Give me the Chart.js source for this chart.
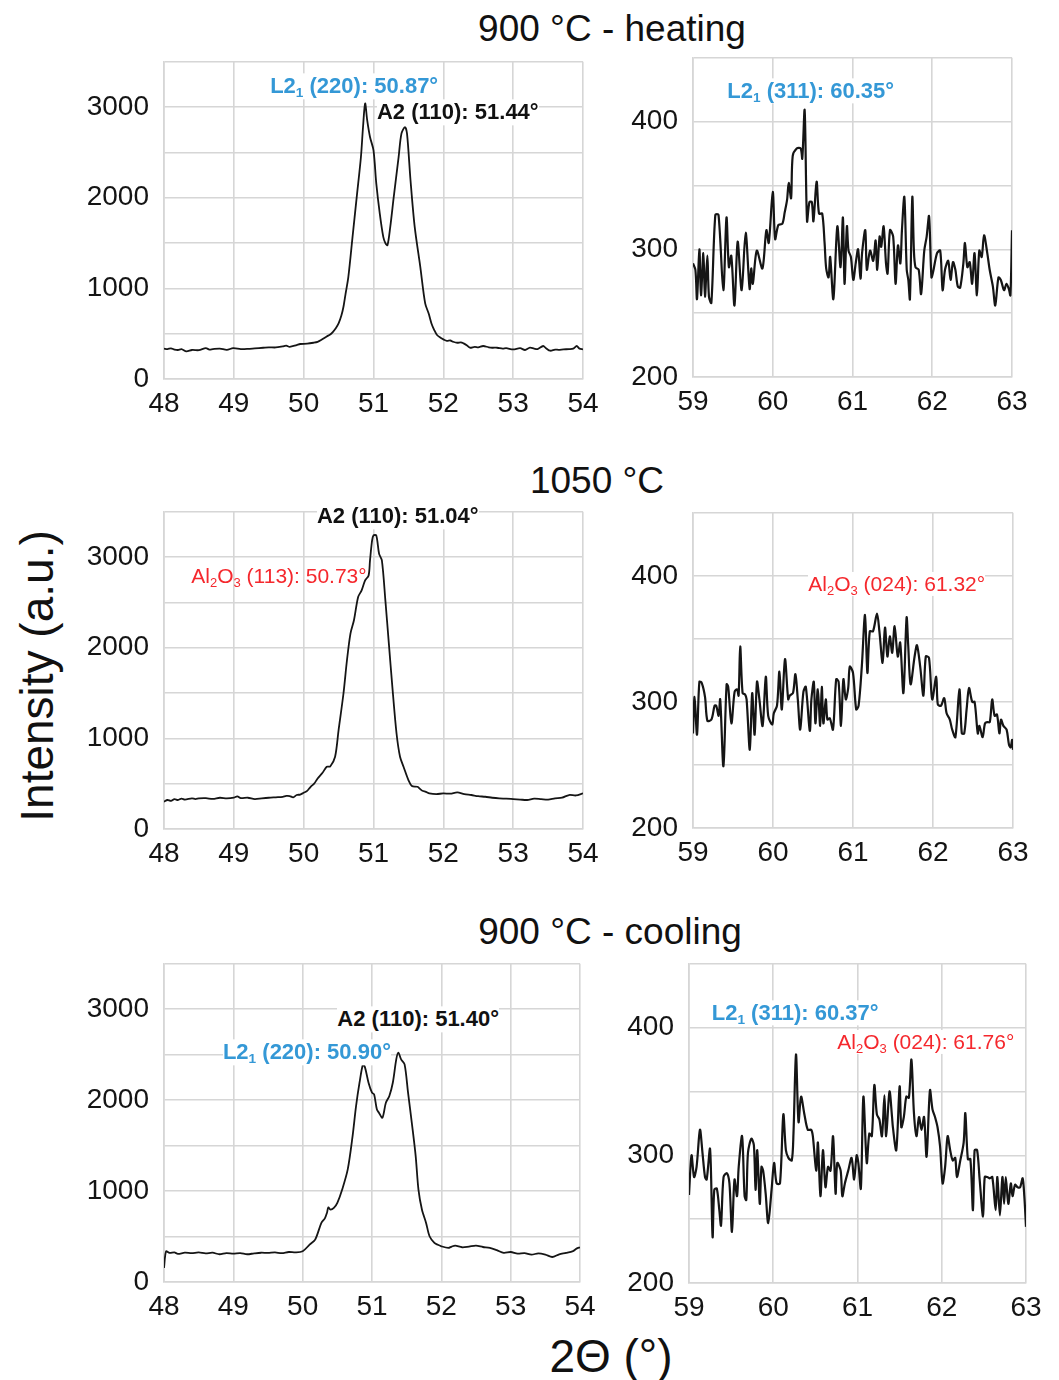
<!DOCTYPE html>
<html><head><meta charset="utf-8">
<script src="https://cdn.jsdelivr.net/npm/chart.js@4.4.1/dist/chart.umd.min.js"></script>
<style>
html,body{margin:0;padding:0;background:#fff;}
body{width:1059px;height:1380px;position:relative;overflow:hidden;font-family:Arial,"Liberation Sans",sans-serif;}
canvas{position:absolute;}
.title{position:absolute;font-size:37px;color:#111;white-space:nowrap;transform:translate(-50%,-50%);}
.axt{position:absolute;font-size:46px;color:#111;white-space:nowrap;transform:translate(-50%,-50%);}
.ann{position:absolute;white-space:nowrap;font-size:22px;background:#fff;padding:0;transform:translateY(-50%);line-height:1.15;}
.ann.nobg{background:transparent;}
.ann sub{font-size:0.62em;vertical-align:-0.28em;line-height:0;}
.blue{color:#3498d6;font-weight:bold;}
.black{color:#111;font-weight:bold;}
.red{color:#f5282d;font-size:21px;}
</style></head><body>
<div class="title" style="left:612px;top:29px;">900 °C - heating</div>
<div class="title" style="left:597px;top:481px;">1050 °C</div>
<div class="title" style="left:610px;top:932px;">900 °C - cooling</div>
<div class="axt" style="left:37px;top:676px;transform:translate(-50%,-50%) rotate(-90deg);">Intensity (a.u.)</div>
<div class="axt" style="left:611px;top:1356px;">2Θ (°)</div>
<script>
// ---------- DATA ----------
const leftXTicks = [48, 49, 50, 51, 52, 53, 54];
const rightXTicks = [59, 60, 61, 62, 63];
const leftYLabels = [0, 1000, 2000, 3000];
const rightYLabels = [200, 300, 400];

// 900 °C heating, 48-54
const p1X = [48.00,48.05,48.10,48.15,48.20,48.25,48.32,48.40,48.50,48.60,48.65,48.70,48.80,48.90,48.99,49.10,49.20,49.30,49.42,49.50,49.60,49.70,49.75,49.80,49.90,49.95,50.05,50.14,50.20,50.25,50.33,50.38,50.42,50.46,50.50,50.54,50.57,50.60,50.64,50.70,50.76,50.82,50.85,50.88,50.91,50.95,51.00,51.04,51.09,51.14,51.17,51.20,51.24,51.29,51.36,51.40,51.45,51.48,51.53,51.59,51.67,51.74,51.79,51.83,51.87,51.91,51.96,52.00,52.05,52.10,52.14,52.20,52.25,52.29,52.34,52.38,52.45,52.50,52.57,52.65,52.70,52.77,52.85,52.90,53.00,53.10,53.17,53.24,53.30,53.35,53.43,53.47,53.53,53.60,53.65,53.72,53.80,53.86,53.91,53.95,54.00];
const p1Y = [335,330,338,325,320,330,305,320,318,340,325,330,335,322,340,330,332,338,345,350,348,360,368,355,375,386,390,400,410,430,470,490,520,560,613,700,797,940,1127,1568,2009,2450,2780,3040,2853,2670,2523,2156,1825,1568,1500,1476,1678,2009,2450,2707,2780,2707,2193,1678,1238,834,723,613,540,485,455,437,420,425,411,400,405,393,370,345,355,350,364,350,345,345,335,340,327,340,320,345,335,330,364,340,312,325,322,327,330,335,364,335,327];

// 900 °C heating, 59-63
const p2X = [59.00,59.03,59.05,59.08,59.10,59.13,59.15,59.18,59.20,59.23,59.28,59.32,59.38,59.42,59.45,59.48,59.52,59.56,59.61,59.66,59.71,59.73,59.75,59.80,59.87,59.92,59.95,60.00,60.03,60.07,60.12,60.15,60.18,60.20,60.23,60.25,60.30,60.35,60.37,60.40,60.43,60.46,60.49,60.51,60.55,60.58,60.62,60.65,60.67,60.70,60.72,60.76,60.81,60.85,60.88,60.90,60.93,60.95,60.98,61.01,61.04,61.07,61.10,61.12,61.16,61.18,61.22,61.26,61.29,61.31,61.34,61.36,61.39,61.42,61.44,61.47,61.51,61.54,61.57,61.60,61.62,61.65,61.68,61.70,61.72,61.75,61.77,61.79,61.83,61.86,61.90,61.93,61.96,61.99,62.01,62.06,62.10,62.13,62.16,62.20,62.23,62.26,62.29,62.32,62.35,62.39,62.41,62.44,62.47,62.50,62.53,62.56,62.59,62.62,62.65,62.69,62.72,62.76,62.79,62.83,62.86,62.90,62.93,62.96,62.98,63.00];
const p2Y = [289,284,261,300,264,297,263,295,263,258,327,327,268,325,286,295,256,306,268,313,269,285,273,299,285,315,305,345,308,319,320,329,339,352,340,373,379,379,371,409,322,337,337,322,353,328,328,305,285,278,294,261,318,286,325,273,318,299,294,276,289,300,277,297,315,284,299,291,307,284,310,302,318,289,281,315,310,273,303,289,315,341,284,276,261,341,299,286,284,265,299,310,326,278,282,297,299,268,284,291,276,290,284,271,270,289,305,286,290,273,297,264,299,294,311,297,284,271,256,278,276,268,273,269,264,315];

// 1050 °C, 48-54
const p3X = [48.00,48.05,48.10,48.15,48.20,48.25,48.30,48.40,48.45,48.50,48.60,48.70,48.80,48.90,49.00,49.05,49.10,49.20,49.30,49.40,49.50,49.60,49.70,49.75,49.80,49.85,49.90,49.95,50.00,50.05,50.10,50.15,50.20,50.27,50.33,50.38,50.45,50.50,50.57,50.62,50.67,50.72,50.78,50.83,50.88,50.93,50.95,50.98,51.00,51.04,51.08,51.12,51.17,51.22,51.27,51.33,51.38,51.43,51.50,51.55,51.63,51.67,51.70,51.75,51.80,51.90,52.00,52.10,52.20,52.30,52.40,52.50,52.60,52.70,52.80,52.90,53.00,53.10,53.20,53.30,53.40,53.50,53.60,53.70,53.80,53.90,54.00];
const p3Y = [301,320,310,330,320,335,325,338,330,338,340,332,345,338,345,360,340,345,330,338,345,350,355,365,364,350,375,380,400,420,466,500,558,620,687,690,797,1091,1495,1862,2156,2303,2560,2633,2743,2798,2964,3184,3239,3239,3037,2964,2523,2046,1568,1054,797,687,540,474,466,440,422,410,393,385,393,390,404,385,375,362,356,345,338,335,330,325,320,335,330,325,338,345,375,370,393];

// 1050 °C, 59-63
const p4X = [59.00,59.02,59.05,59.08,59.11,59.15,59.18,59.23,59.27,59.29,59.32,59.34,59.38,59.42,59.44,59.48,59.52,59.55,59.57,59.59,59.62,59.65,59.67,59.71,59.74,59.77,59.80,59.83,59.87,59.91,59.94,59.99,60.01,60.05,60.08,60.11,60.15,60.19,60.21,60.25,60.28,60.31,60.34,60.38,60.41,60.46,60.48,60.51,60.53,60.56,60.59,60.61,60.63,60.66,60.68,60.71,60.75,60.79,60.82,60.85,60.88,60.91,60.94,60.96,61.00,61.04,61.07,61.11,61.15,61.18,61.21,61.25,61.30,61.33,61.37,61.40,61.43,61.46,61.49,61.52,61.56,61.59,61.63,61.67,61.69,61.72,61.77,61.80,61.84,61.88,61.91,61.95,61.99,62.04,62.06,62.10,62.14,62.17,62.21,62.24,62.28,62.33,62.36,62.39,62.42,62.45,62.49,62.52,62.56,62.58,62.62,62.65,62.68,62.71,62.74,62.77,62.80,62.83,62.85,62.88,62.92,62.95,62.97,62.99,63.00];
const p4Y = [275,304,274,316,315,304,285,286,297,297,289,302,249,314,312,283,308,310,305,344,307,306,302,262,307,274,316,302,281,320,289,282,291,297,324,294,334,302,305,307,322,302,278,308,312,277,302,316,283,310,281,312,283,302,286,287,278,318,316,281,318,302,311,328,323,294,297,328,369,323,356,356,370,356,331,359,336,352,339,360,336,347,307,367,345,314,336,345,328,305,336,335,302,320,298,297,303,291,286,278,272,310,275,275,294,311,300,300,275,281,272,283,284,284,302,289,290,275,286,281,278,266,264,270,262];

// 900 °C cooling, 48-54
const p5X = [48.00,48.03,48.08,48.15,48.20,48.30,48.40,48.50,48.60,48.70,48.80,48.90,49.00,49.10,49.20,49.30,49.40,49.50,49.60,49.70,49.80,49.90,50.00,50.10,50.18,50.27,50.32,50.35,50.37,50.40,50.45,50.50,50.57,50.65,50.72,50.77,50.82,50.87,50.90,50.95,51.00,51.03,51.07,51.10,51.15,51.20,51.25,51.30,51.35,51.38,51.42,51.47,51.52,51.58,51.63,51.67,51.72,51.78,51.83,51.90,51.95,52.00,52.10,52.15,52.20,52.30,52.40,52.50,52.60,52.70,52.80,52.90,53.00,53.10,53.20,53.30,53.40,53.50,53.60,53.70,53.80,53.90,53.95,54.00];
const p5Y = [154,338,320,325,310,322,318,325,315,322,305,318,312,318,305,315,322,320,325,318,330,325,338,411,466,650,700,760,820,797,815,870,1017,1238,1605,1935,2192,2394,2358,2192,2082,2064,1899,1862,1807,1972,2046,2192,2449,2523,2449,2394,2082,1715,1385,1017,797,650,503,430,410,393,375,390,400,382,390,400,385,375,350,320,330,312,318,301,315,301,275,305,320,340,367,382];

// 900 °C cooling, 59-63
const p6X = [59.00,59.03,59.06,59.09,59.13,59.16,59.19,59.21,59.25,59.28,59.30,59.33,59.36,59.38,59.41,59.45,59.48,59.51,59.54,59.57,59.59,59.63,59.66,59.68,59.70,59.74,59.77,59.79,59.81,59.84,59.86,59.88,59.91,59.94,59.98,60.01,60.04,60.08,60.12,60.15,60.18,60.22,60.24,60.27,60.30,60.33,60.37,60.41,60.45,60.47,60.51,60.53,60.56,60.59,60.62,60.65,60.68,60.71,60.74,60.76,60.80,60.82,60.85,60.89,60.93,60.96,60.99,61.01,61.04,61.07,61.11,61.14,61.17,61.20,61.23,61.26,61.29,61.32,61.34,61.38,61.41,61.42,61.46,61.50,61.52,61.55,61.58,61.61,61.64,61.67,61.70,61.73,61.76,61.79,61.82,61.86,61.89,61.92,61.95,61.98,62.01,62.04,62.07,62.10,62.13,62.16,62.18,62.22,62.26,62.28,62.31,62.34,62.37,62.39,62.42,62.45,62.49,62.51,62.54,62.57,62.60,62.64,62.66,62.69,62.72,62.74,62.76,62.79,62.82,62.84,62.87,62.90,62.93,62.96,62.98,63.00];
const p6Y = [269,300,283,291,320,302,283,281,305,236,273,274,257,245,283,286,278,240,281,268,291,315,268,265,302,313,308,273,304,262,291,288,270,247,273,294,278,278,332,304,298,296,317,379,326,346,332,320,320,315,288,310,268,304,275,291,288,315,270,294,288,268,278,288,298,281,300,294,274,346,294,317,315,355,332,328,315,347,315,350,330,322,304,354,322,330,346,345,375,333,315,330,320,330,299,351,336,330,322,307,278,291,315,304,296,298,283,296,310,333,297,297,257,304,304,281,252,283,283,282,283,257,283,253,283,262,283,262,278,268,277,275,275,282,268,244];

// ---------- LAYOUT ----------
const YW = 80, TP = 24, RP = 34, XH = 52;
const panels = [
  {xs:p1X, ys:p1Y, rect:[164, 62, 583, 379], side:'L', lw:1.8,
   ann:[{x:49.52,y:3231,cls:'blue',html:'L2<sub>1</sub> (220): 50.87°'},
        {x:51.05,y:2945,cls:'black',html:'A2 (110): 51.44°'}]},
  {xs:p2X, ys:p2Y, rect:[693, 58, 1012, 377], side:'R', lw:2.2,
   ann:[{x:59.43,y:424,cls:'blue',html:'L2<sub>1</sub> (311): 60.35°'}]},
  {xs:p3X, ys:p3Y, rect:[164, 512, 583, 829], side:'L', lw:1.8,
   ann:[{x:50.19,y:3451,cls:'black',html:'A2 (110): 51.04°'},
        {x:48.39,y:2791,cls:'red nobg',html:'Al<sub>2</sub>O<sub>3</sub> (113): 50.73°'}]},
  {xs:p4X, ys:p4Y, rect:[693, 513, 1013, 828], side:'R', lw:2.2,
   ann:[{x:60.44,y:394,cls:'red',html:'Al<sub>2</sub>O<sub>3</sub> (024): 61.32°'}]},
  {xs:p5X, ys:p5Y, rect:[164, 964, 580, 1282], side:'L', lw:1.8,
   ann:[{x:50.50,y:2890,cls:'black',html:'A2 (110): 51.40°'},
        {x:48.85,y:2528,cls:'blue',html:'L2<sub>1</sub> (220): 50.90°'}]},
  {xs:p6X, ys:p6Y, rect:[689, 964, 1026, 1283], side:'R', lw:2.2,
   ann:[{x:59.27,y:412,cls:'blue',html:'L2<sub>1</sub> (311): 60.37°'},
        {x:60.76,y:389,cls:'red',html:'Al<sub>2</sub>O<sub>3</sub> (024): 61.76°'}]}
];

const gridColor = '#d6d6d6';
const tickFont = {family: 'Arial, "Liberation Sans", sans-serif', size: 28};

function build(p, cw, ch) {
  const cv = document.createElement('canvas');
  cv.width = cw; cv.height = ch;
  cv.style.width = cw + 'px'; cv.style.height = ch + 'px';
  document.body.appendChild(cv);
  const isL = p.side === 'L';
  const xT = isL ? leftXTicks : rightXTicks;
  const yL = isL ? leftYLabels : rightYLabels;
  const chart = new Chart(cv.getContext('2d'), {
    type: 'line',
    data: {datasets: [{
      data: p.xs.map((x, i) => ({x: x, y: p.ys[i]})),
      borderColor: '#151515', borderWidth: p.lw, pointRadius: 0,
      tension: 0.3, fill: false
    }]},
    options: {
      responsive: false, animation: false, devicePixelRatio: 1,
      layout: {padding: {top: TP, right: RP, left: 0, bottom: 0}},
      plugins: {legend: {display: false}, tooltip: {enabled: false}},
      scales: {
        x: {type: 'linear', min: xT[0], max: xT[xT.length - 1],
            afterFit: (s) => { s.height = XH; },
            afterBuildTicks: (s) => { s.ticks = xT.map(v => ({value: v})); },
            grid: {color: gridColor, lineWidth: 1.6, drawTicks: false},
            border: {color: gridColor, width: 1.6},
            ticks: {font: tickFont, color: '#141414', padding: 8, maxRotation: 0, autoSkip: false}},
        y: {type: 'linear', min: isL ? 0 : 200, max: isL ? 3500 : 450,
            afterFit: (s) => { s.width = YW; },
            ticks: {stepSize: isL ? 500 : 50, font: tickFont, color: '#141414', padding: 15, autoSkip: false,
                    callback: (v) => yL.includes(v) ? String(v) : ''},
            grid: {color: gridColor, lineWidth: 1.6, drawTicks: false},
            border: {color: gridColor, width: 1.6}}
      }
    }
  });
  return {cv, chart};
}

panels.forEach((p) => {
  const [l, t, r, b] = p.rect;
  let cw = YW + (r - l) + RP, ch = TP + (b - t) + XH;
  let res = build(p, cw, ch);
  let ca = res.chart.chartArea;
  const dw = (r - l) - (ca.right - ca.left), dh = (b - t) - (ca.bottom - ca.top);
  if (Math.abs(dw) > 0.5 || Math.abs(dh) > 0.5) {
    res.chart.destroy(); res.cv.remove();
    cw = Math.round(cw + dw); ch = Math.round(ch + dh);
    res = build(p, cw, ch);
    ca = res.chart.chartArea;
  }
  const cl = l - ca.left, ct = t - ca.top;
  res.cv.style.left = cl + 'px';
  res.cv.style.top = ct + 'px';
  const chart = res.chart;
  p.ann.forEach(a => {
    const d = document.createElement('div');
    d.className = 'ann ' + a.cls;
    d.innerHTML = a.html;
    d.style.left = (cl + chart.scales.x.getPixelForValue(a.x)) + 'px';
    d.style.top = (ct + chart.scales.y.getPixelForValue(a.y)) + 'px';
    document.body.appendChild(d);
  });
});
</script>
</body></html>
